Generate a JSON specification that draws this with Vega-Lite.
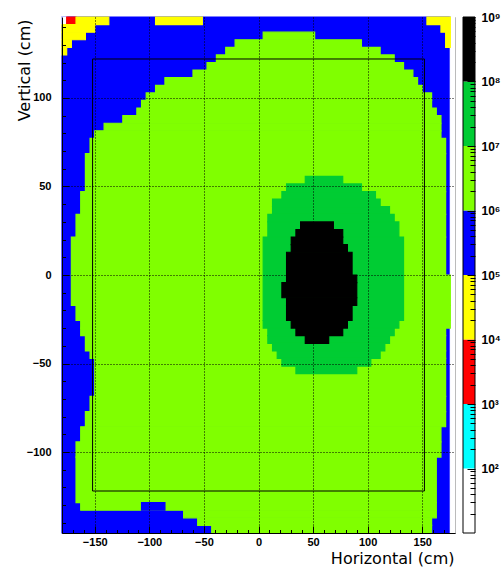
{
  "$schema": "https://vega.github.io/schema/vega-lite/v6.json",
  "background": "white",
  "padding": {"left": 15, "top": 11, "right": 0, "bottom": 0},
  "spacing": 5,
  "config": {
    "axis": {"domainColor": "black", "tickColor": "black", "labelColor": "black", "titleColor": "black", "labelFont": "Liberation Sans", "labelFontWeight": "bold", "labelFontSize": 11, "titleFont": "DejaVu Sans", "titleFontWeight": "normal", "titleFontSize": 16, "labelOverlap": false, "labelFlush": false}
  },
  "datasets": {
    "cells": [
      {"x1": -180, "x2": 175.71, "y1": -145.714, "y2": 145.714, "z": 500000},
      {"x1": 175.71, "x2": 180, "y1": -145.714, "y2": 145.714, "z": 0},
      {"x1": -180, "x2": -175.71, "y1": 141.43, "y2": 145.714, "z": 0},
      {"x1": -175.71, "x2": -167.14, "y1": 141.43, "y2": 145.714, "z": 5000},
      {"x1": -167.14, "x2": -137.14, "y1": 141.43, "y2": 145.714, "z": 50000},
      {"x1": -94.29, "x2": -51.43, "y1": 141.43, "y2": 145.714, "z": 50000},
      {"x1": 154.29, "x2": 175.71, "y1": 141.43, "y2": 145.714, "z": 50000},
      {"x1": -180, "x2": -150, "y1": 137.14, "y2": 141.43, "z": 50000},
      {"x1": 167.14, "x2": 175.71, "y1": 137.14, "y2": 141.43, "z": 50000},
      {"x1": -180, "x2": -158.57, "y1": 132.86, "y2": 137.14, "z": 50000},
      {"x1": 171.43, "x2": 175.71, "y1": 128.57, "y2": 137.14, "z": 50000},
      {"x1": -180, "x2": -171.43, "y1": 128.57, "y2": 132.86, "z": 50000},
      {"x1": -180, "x2": -175.71, "y1": 124.29, "y2": 128.57, "z": 50000},
      {"x1": 4.29, "x2": 51.43, "y1": 132.86, "y2": 137.14, "z": 5000000},
      {"x1": -21.43, "x2": 94.29, "y1": 128.57, "y2": 132.86, "z": 5000000},
      {"x1": -30, "x2": 111.43, "y1": 124.29, "y2": 128.57, "z": 5000000},
      {"x1": -38.57, "x2": 124.29, "y1": 120, "y2": 124.29, "z": 5000000},
      {"x1": -47.14, "x2": 132.86, "y1": 115.71, "y2": 120, "z": 5000000},
      {"x1": -60, "x2": 141.43, "y1": 111.43, "y2": 115.71, "z": 5000000},
      {"x1": -85.71, "x2": 145.71, "y1": 107.14, "y2": 111.43, "z": 5000000},
      {"x1": -94.29, "x2": 150, "y1": 102.86, "y2": 107.14, "z": 5000000},
      {"x1": -102.86, "x2": 158.57, "y1": 98.57, "y2": 102.86, "z": 5000000},
      {"x1": -107.14, "x2": 158.57, "y1": 94.29, "y2": 98.57, "z": 5000000},
      {"x1": -111.43, "x2": 162.86, "y1": 90, "y2": 94.29, "z": 5000000},
      {"x1": -124.29, "x2": 167.14, "y1": 85.71, "y2": 90, "z": 5000000},
      {"x1": -141.43, "x2": 167.14, "y1": 81.43, "y2": 85.71, "z": 5000000},
      {"x1": -150, "x2": 167.14, "y1": 77.14, "y2": 81.43, "z": 5000000},
      {"x1": -154.29, "x2": 171.43, "y1": 68.57, "y2": 77.14, "z": 5000000},
      {"x1": -158.57, "x2": 171.43, "y1": 47.14, "y2": 68.57, "z": 5000000},
      {"x1": -162.86, "x2": 171.43, "y1": 34.29, "y2": 47.14, "z": 5000000},
      {"x1": -167.14, "x2": 171.43, "y1": 21.43, "y2": 34.29, "z": 5000000},
      {"x1": -171.43, "x2": 171.43, "y1": 0, "y2": 21.43, "z": 5000000},
      {"x1": -171.43, "x2": 175.71, "y1": -17.14, "y2": 0, "z": 5000000},
      {"x1": -167.14, "x2": 175.71, "y1": -25.71, "y2": -17.14, "z": 5000000},
      {"x1": -162.86, "x2": 175.71, "y1": -30, "y2": -25.71, "z": 5000000},
      {"x1": -162.86, "x2": 171.43, "y1": -34.29, "y2": -30, "z": 5000000},
      {"x1": -158.57, "x2": 171.43, "y1": -42.86, "y2": -34.29, "z": 5000000},
      {"x1": -154.29, "x2": 171.43, "y1": -47.14, "y2": -42.86, "z": 5000000},
      {"x1": -150, "x2": 171.43, "y1": -68.57, "y2": -47.14, "z": 5000000},
      {"x1": -154.29, "x2": 171.43, "y1": -77.14, "y2": -68.57, "z": 5000000},
      {"x1": -158.57, "x2": 171.43, "y1": -85.71, "y2": -77.14, "z": 5000000},
      {"x1": -162.86, "x2": 167.14, "y1": -94.29, "y2": -85.71, "z": 5000000},
      {"x1": -167.14, "x2": 167.14, "y1": -102.86, "y2": -94.29, "z": 5000000},
      {"x1": -167.14, "x2": 162.86, "y1": -128.57, "y2": -102.86, "z": 5000000},
      {"x1": -162.86, "x2": 162.86, "y1": -132.86, "y2": -128.57, "z": 5000000},
      {"x1": -68.57, "x2": 162.86, "y1": -137.14, "y2": -132.86, "z": 5000000},
      {"x1": -55.71, "x2": 158.57, "y1": -141.43, "y2": -137.14, "z": 5000000},
      {"x1": -42.86, "x2": 158.57, "y1": -145.714, "y2": -141.43, "z": 5000000},
      {"x1": -107.14, "x2": -85.71, "y1": -132.86, "y2": -128.57, "z": 500000},
      {"x1": 42.86, "x2": 77.14, "y1": 51.43, "y2": 55.71, "z": 50000000},
      {"x1": 25.71, "x2": 94.29, "y1": 47.14, "y2": 51.43, "z": 50000000},
      {"x1": 21.43, "x2": 107.14, "y1": 42.86, "y2": 47.14, "z": 50000000},
      {"x1": 12.86, "x2": 111.43, "y1": 38.57, "y2": 42.86, "z": 50000000},
      {"x1": 12.86, "x2": 120, "y1": 34.29, "y2": 38.57, "z": 50000000},
      {"x1": 8.57, "x2": 124.29, "y1": 30, "y2": 34.29, "z": 50000000},
      {"x1": 8.57, "x2": 128.57, "y1": 21.43, "y2": 30, "z": 50000000},
      {"x1": 4.29, "x2": 132.86, "y1": -25.71, "y2": 21.43, "z": 50000000},
      {"x1": 4.29, "x2": 128.57, "y1": -30, "y2": -25.71, "z": 50000000},
      {"x1": 8.57, "x2": 124.29, "y1": -34.29, "y2": -30, "z": 50000000},
      {"x1": 8.57, "x2": 120, "y1": -38.57, "y2": -34.29, "z": 50000000},
      {"x1": 12.86, "x2": 115.71, "y1": -42.86, "y2": -38.57, "z": 50000000},
      {"x1": 17.14, "x2": 111.43, "y1": -47.14, "y2": -42.86, "z": 50000000},
      {"x1": 21.43, "x2": 102.86, "y1": -51.43, "y2": -47.14, "z": 50000000},
      {"x1": 34.29, "x2": 90, "y1": -55.71, "y2": -51.43, "z": 50000000},
      {"x1": 38.57, "x2": 68.57, "y1": 25.71, "y2": 30, "z": 300000000},
      {"x1": 34.29, "x2": 77.14, "y1": 21.43, "y2": 25.71, "z": 300000000},
      {"x1": 30, "x2": 77.14, "y1": 17.14, "y2": 21.43, "z": 300000000},
      {"x1": 30, "x2": 81.43, "y1": 12.86, "y2": 17.14, "z": 300000000},
      {"x1": 25.71, "x2": 85.71, "y1": 0, "y2": 12.86, "z": 300000000},
      {"x1": 25.71, "x2": 90, "y1": -4.29, "y2": 0, "z": 300000000},
      {"x1": 21.43, "x2": 90, "y1": -12.86, "y2": -4.29, "z": 300000000},
      {"x1": 25.71, "x2": 90, "y1": -17.14, "y2": -12.86, "z": 300000000},
      {"x1": 25.71, "x2": 85.71, "y1": -25.71, "y2": -17.14, "z": 300000000},
      {"x1": 30, "x2": 81.43, "y1": -30, "y2": -25.71, "z": 300000000},
      {"x1": 34.29, "x2": 77.14, "y1": -34.29, "y2": -30, "z": 300000000},
      {"x1": 42.86, "x2": 64.29, "y1": -38.57, "y2": -34.29, "z": 300000000}
    ],
    "frame": [{"x1": -152, "x2": 152, "y1": -122, "y2": 122}],
    "bar": [
      {"lo": 10, "hi": 100, "z": 50},
      {"lo": 100, "hi": 1000, "z": 500},
      {"lo": 1000, "hi": 10000, "z": 5000},
      {"lo": 10000, "hi": 100000, "z": 50000},
      {"lo": 100000, "hi": 1000000, "z": 500000},
      {"lo": 1000000, "hi": 10000000, "z": 5000000},
      {"lo": 10000000, "hi": 100000000, "z": 50000000},
      {"lo": 100000000, "hi": 1000000000, "z": 500000000}
    ],
    "barframe": [{"lo": 10, "hi": 1000000000}]
  },
  "hconcat": [
    {
      "width": 393,
      "height": 516,
      "view": {"stroke": "#555", "strokeWidth": 1},
      "resolve": {"axis": {"x": "independent", "y": "independent"}},
      "layer": [
        {
          "data": {"name": "cells"},
          "mark": {"type": "rect", "strokeWidth": 1.2},
          "encoding": {
            "x": {"field": "x1", "type": "quantitative", "scale": {"domain": [-180, 180], "nice": false, "zero": false},
              "axis": {"orient": "bottom", "values": [-150, -100, -50, 0, 50, 100, 150], "tickSize": -7, "labelPadding": 10, "grid": true, "gridColor": "black", "gridDash": [1, 2], "gridWidth": 1, "zindex": 1,
                "title": "Horizontal (cm)", "titleAlign": "right", "titleAnchor": "end", "titleX": 392, "titleY": 30, "titleBaseline": "alphabetic"}},
            "x2": {"field": "x2"},
            "y": {"field": "y1", "type": "quantitative", "scale": {"domain": [-145.714, 145.714], "nice": false, "zero": false},
              "axis": {"orient": "left", "values": [-100, -50, 0, 50, 100], "tickSize": -7, "labelPadding": 18, "grid": true, "gridColor": "black", "gridDash": [1, 2], "gridWidth": 1, "zindex": 1,
                "title": "Vertical (cm)", "titleAngle": -90, "titleAlign": "right", "titleAnchor": "end", "titleX": -30, "titleY": 2, "titleBaseline": "bottom"}},
            "y2": {"field": "y2"},
            "color": {"field": "z", "type": "quantitative", "legend": null,
              "scale": {"type": "threshold", "domain": [100, 1000, 10000, 100000, 1000000, 10000000, 100000000], "range": ["#ffffff", "#00ffff", "#ff0000", "#ffff00", "#0000ff", "#80ff00", "#00cc33", "#000000"]}},
            "stroke": {"field": "z", "type": "quantitative", "legend": null,
              "scale": {"type": "threshold", "domain": [100, 1000, 10000, 100000, 1000000, 10000000, 100000000], "range": ["#ffffff", "#00ffff", "#ff0000", "#ffff00", "#0000ff", "#80ff00", "#00cc33", "#000000"]}}
          }
        },
        {
          "data": {"name": "frame"},
          "mark": {"type": "rect", "filled": false, "stroke": "black", "strokeWidth": 1},
          "encoding": {
            "x": {"field": "x1", "type": "quantitative",
              "axis": {"orient": "bottom", "values": [-170, -160, -140, -130, -120, -110, -90, -80, -70, -60, -40, -30, -20, -10, 10, 20, 30, 40, 60, 70, 80, 90, 110, 120, 130, 140, 160, 170], "tickSize": -3.5, "labels": false, "grid": false, "domain": false, "title": null, "zindex": 1}},
            "x2": {"field": "x2"},
            "y": {"field": "y1", "type": "quantitative",
              "axis": {"orient": "left", "values": [-140, -130, -120, -110, -90, -80, -70, -60, -40, -30, -20, -10, 10, 20, 30, 40, 60, 70, 80, 90, 110, 120, 130, 140], "tickSize": -3.5, "labels": false, "grid": false, "domain": false, "title": null, "zindex": 1}},
            "y2": {"field": "y2"}
          }
        }
      ]
    },
    {
      "width": 12,
      "height": 516,
      "view": {"stroke": null},
      "resolve": {"axis": {"y": "independent"}},
      "layer": [
        {
          "data": {"name": "bar"},
          "mark": {"type": "rect"},
          "encoding": {
            "x": {"datum": 0, "type": "quantitative", "scale": {"domain": [0, 1], "nice": false, "zero": false}, "axis": null},
            "x2": {"datum": 1},
            "y": {"field": "lo", "type": "quantitative", "scale": {"type": "log", "domain": [10, 1000000000], "nice": false},
              "axis": {"orient": "right", "values": [100, 1000, 10000, 100000, 1000000, 10000000, 100000000, 1000000000], "tickSize": -8, "labelPadding": 14, "domain": false, "grid": false, "title": null, "zindex": 1, "labelFontSize": 12, "labelFont": "Liberation Sans, DejaVu Sans", "labelBaseline": "middle",
                "labelExpr": "'10' + ['⁰','¹','²','³','⁴','⁵','⁶','⁷','⁸','⁹'][round(log(datum.value) / LN10)]"}},
            "y2": {"field": "hi"},
            "color": {"field": "z", "type": "quantitative", "legend": null,
              "scale": {"type": "threshold", "domain": [100, 1000, 10000, 100000, 1000000, 10000000, 100000000], "range": ["#ffffff", "#00ffff", "#ff0000", "#ffff00", "#0000ff", "#80ff00", "#00cc33", "#000000"]}}
          }
        },
        {
          "data": {"name": "barframe"},
          "mark": {"type": "rect", "filled": false, "stroke": "black", "strokeWidth": 1},
          "encoding": {
            "x": {"datum": 0, "type": "quantitative", "axis": null},
            "x2": {"datum": 1},
            "y": {"field": "lo", "type": "quantitative",
              "axis": {"orient": "right", "values": [20, 30, 40, 50, 60, 70, 80, 90, 200, 300, 400, 500, 600, 700, 800, 900, 2000, 3000, 4000, 5000, 6000, 7000, 8000, 9000, 20000, 30000, 40000, 50000, 60000, 70000, 80000, 90000, 200000, 300000, 400000, 500000, 600000, 700000, 800000, 900000, 2000000, 3000000, 4000000, 5000000, 6000000, 7000000, 8000000, 9000000, 20000000, 30000000, 40000000, 50000000, 60000000, 70000000, 80000000, 90000000, 200000000, 300000000, 400000000, 500000000, 600000000, 700000000, 800000000, 900000000], "tickSize": -5, "labels": false, "domain": false, "grid": false, "title": null, "zindex": 1}},
            "y2": {"field": "hi"}
          }
        }
      ]
    }
  ]
}
